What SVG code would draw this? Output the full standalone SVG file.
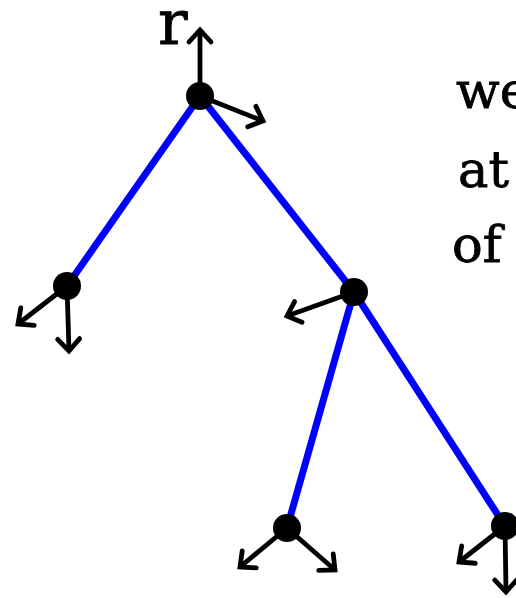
<svg xmlns="http://www.w3.org/2000/svg" width="516" height="598" viewBox="0 0 516 598">
  <style>
    .edge { stroke: #0000ff; stroke-width: 7; fill: none; }
    .arr { stroke: #000; stroke-width: 4.8; fill: none; marker-end: url(#ah); }
    .node { fill: #000; }
    .txt { font-family: "DejaVu Serif", "Liberation Serif", serif; fill: #000; stroke: #000; stroke-width: 0.8; }
  </style>
  <defs>
    <marker id="ah" markerUnits="userSpaceOnUse" viewBox="-16 -14 20 28" markerWidth="20" markerHeight="28" refX="0" refY="0" orient="auto" overflow="visible">
      <path d="M -12 -11 L 0 0 L -12 11" stroke="#000" stroke-width="4.8" fill="none" stroke-linecap="round" stroke-linejoin="miter"/>
    </marker>
  </defs>
  <rect width="516" height="598" fill="#fff"/>
  <g id="connectors">
    <line class="edge" x1="200" y1="96" x2="67" y2="286"/>
    <line class="edge" x1="200" y1="96" x2="354" y2="292"/>
    <line class="edge" x1="354" y1="292" x2="287" y2="528"/>
    <line class="edge" x1="354" y1="292" x2="505" y2="526"/>
    <line class="arr" x1="200" y1="96" x2="200" y2="30"/>
    <line class="arr" x1="200" y1="96" x2="263" y2="121"/>
    <line class="arr" x1="67" y1="286" x2="18" y2="324"/>
    <line class="arr" x1="67" y1="286" x2="69" y2="351"/>
    <line class="arr" x1="354" y1="292" x2="287" y2="316"/>
    <line class="arr" x1="287" y1="528" x2="240" y2="567"/>
    <line class="arr" x1="287" y1="528" x2="335" y2="570"/>
    <line class="arr" x1="505" y1="526" x2="459" y2="562"/>
    <line class="arr" x1="505" y1="526" x2="506" y2="592"/>
  </g>
  <g id="node-root"><circle class="node" cx="200" cy="96" r="14"/></g>
  <g id="node-left"><circle class="node" cx="67" cy="286" r="14"/></g>
  <g id="node-right"><circle class="node" cx="354" cy="292" r="14"/></g>
  <g id="node-right-left"><circle class="node" cx="287" cy="528" r="14"/></g>
  <g id="node-right-right"><circle class="node" cx="505" cy="526" r="14"/></g>
  <g id="labels">
    <text class="txt" x="158" y="44" font-size="62">r</text>
    <text class="txt" x="456" y="108" font-size="51">we</text>
    <text class="txt" x="458" y="187" font-size="51">at</text>
    <text class="txt" x="452" y="262" font-size="51">of</text>
  </g>
</svg>
